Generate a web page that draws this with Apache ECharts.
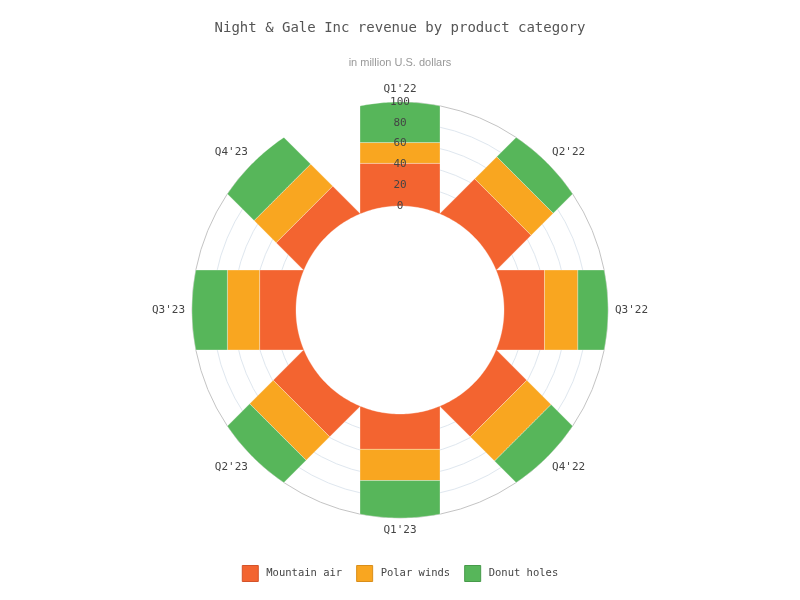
<!DOCTYPE html>
<html><head><meta charset="utf-8">
<script src="https://cdn.jsdelivr.net/npm/echarts@6/dist/echarts.min.js"></script>
<style>html,body{margin:0;padding:0;background:#fff}#chart{width:800px;height:600px}</style>
</head><body><div id="chart"></div>
<script>
const quarters = ["Q1'22","Q2'22","Q3'22","Q4'22","Q1'23","Q2'23","Q3'23","Q4'23"];
const mountainAir = [41, 40, 39, 34, 34, 34, 35, 30];
const polarWinds  = [20, 30, 32, 33, 30, 32, 31, 30];
const donutHoles  = [39, 30, 29, 33, 36, 34, 34, 40];
const seriesNames = ['Mountain air', 'Polar winds', 'Donut holes'];
const radiusMin = 0, radiusMax = 100, radiusStep = 20;

const COLORS = ['#f36430', '#f9a620', '#57b65a'];
const BORDERS = ['#d4532a', '#d98e1a', '#479a4a'];
const HALF_W = 40;
const MONO = "'DejaVu Sans Mono', monospace";

const valueSets = [mountainAir, polarWinds, donutHoles];
const cum = quarters.map(() => 0);
const seriesData = valueSets.map(vals => vals.map((v, i) => {
  const s = cum[i]; cum[i] += v; return [i, s, s + v];
}));

function renderItem(params, api) {
  const cs = params.coordSys;
  const cat = api.value(0), v0 = api.value(1), v1 = api.value(2);
  const p0 = api.coord([v0, cat]);
  const p1 = api.coord([v1, cat]);
  const dx = p1[0] - cs.cx, dy = p1[1] - cs.cy;
  const d1 = Math.hypot(dx, dy);
  const d0 = Math.hypot(p0[0] - cs.cx, p0[1] - cs.cy);
  const ux = dx / d1, uy = dy / d1;
  const nx = -uy, ny = ux;
  const Rin = cs.r0, Rout = cs.r;
  const fromBase = v0 <= radiusMin;
  const pts = [];
  const N = 40;
  for (let k = 0; k <= N; k++) {
    const t = -HALF_W + 2 * HALF_W * k / N;
    const d = Math.min(d1, Math.sqrt(Rout * Rout - t * t));
    pts.push([cs.cx + ux * d + nx * t, cs.cy + uy * d + ny * t]);
  }
  for (let k = N; k >= 0; k--) {
    const t = -HALF_W + 2 * HALF_W * k / N;
    const d = fromBase ? Math.sqrt(Math.max(0, Rin * Rin - t * t)) : d0;
    pts.push([cs.cx + ux * d + nx * t, cs.cy + uy * d + ny * t]);
  }
  return {
    type: 'polygon',
    shape: { points: pts },
    style: { fill: api.visual('color'), stroke: 'rgba(255,255,255,0.5)', lineWidth: 0.6 }
  };
}

const chart = echarts.init(document.getElementById('chart'), null, { renderer: 'canvas' });
chart.setOption({
  animation: false,
  backgroundColor: '#fff',
  title: [
    { text: 'Night & Gale Inc revenue by product category', left: 'center', top: 16,
      textStyle: { fontFamily: MONO, fontSize: 14, fontWeight: 'normal', color: '#555' } },
    { text: 'in million U.S. dollars', left: 'center', top: 52,
      textStyle: { fontFamily: "'Liberation Sans', sans-serif", fontSize: 11, fontWeight: 'normal', color: '#999' } }
  ],
  legend: {
    bottom: 13, left: 'center', icon: 'rect', itemWidth: 16, itemHeight: 16, itemGap: 14,
    textStyle: { fontFamily: MONO, fontSize: 10.5, color: '#444', padding: [0, 0, 0, 3] },
    data: seriesNames.map((n, i) => ({ name: n, itemStyle: { color: COLORS[i], borderColor: BORDERS[i], borderWidth: 1 } }))
  },
  polar: [
    { center: ['50%', 310], radius: [104, 208] },
    { center: ['50%', 310], radius: [104, 208] }
  ],
  angleAxis: [
    { polarIndex: 0, type: 'category', data: quarters, boundaryGap: false, startAngle: 90, clockwise: true,
      axisLine: { show: false },
      axisTick: { show: false }, splitLine: { show: false },
      axisLabel: { fontFamily: MONO, fontSize: 11, color: '#444', margin: 7 } },
    { polarIndex: 1, type: 'category', data: quarters, boundaryGap: false, startAngle: 90, show: false }
  ],
  radiusAxis: [
    { polarIndex: 0, min: radiusMin, max: radiusMax, interval: radiusStep,
      axisLine: { show: false }, axisTick: { show: false }, axisLabel: { show: false },
      splitLine: { show: true, lineStyle: { width: 1,
        color: ['rgba(0,0,0,0)', '#dfe7ef', '#dfe7ef', '#dfe7ef', '#dfe7ef', '#c4c4c4'] } } },
    { polarIndex: 1, min: radiusMin, max: radiusMax, interval: radiusStep, z: 20,
      axisLine: { show: false }, axisTick: { show: false }, splitLine: { show: false },
      axisLabel: { show: true, margin: 0, align: 'center', verticalAlign: 'middle',
        fontFamily: MONO, fontSize: 11, color: '#444' } }
  ],
  series: seriesNames.map((n, i) => ({
    name: n, type: 'custom', coordinateSystem: 'polar', polarIndex: 0,
    itemStyle: { color: COLORS[i] },
    encode: { angle: 0, radius: [1, 2] },
    renderItem: renderItem,
    data: seriesData[i]
  }))
});
</script></body></html>
